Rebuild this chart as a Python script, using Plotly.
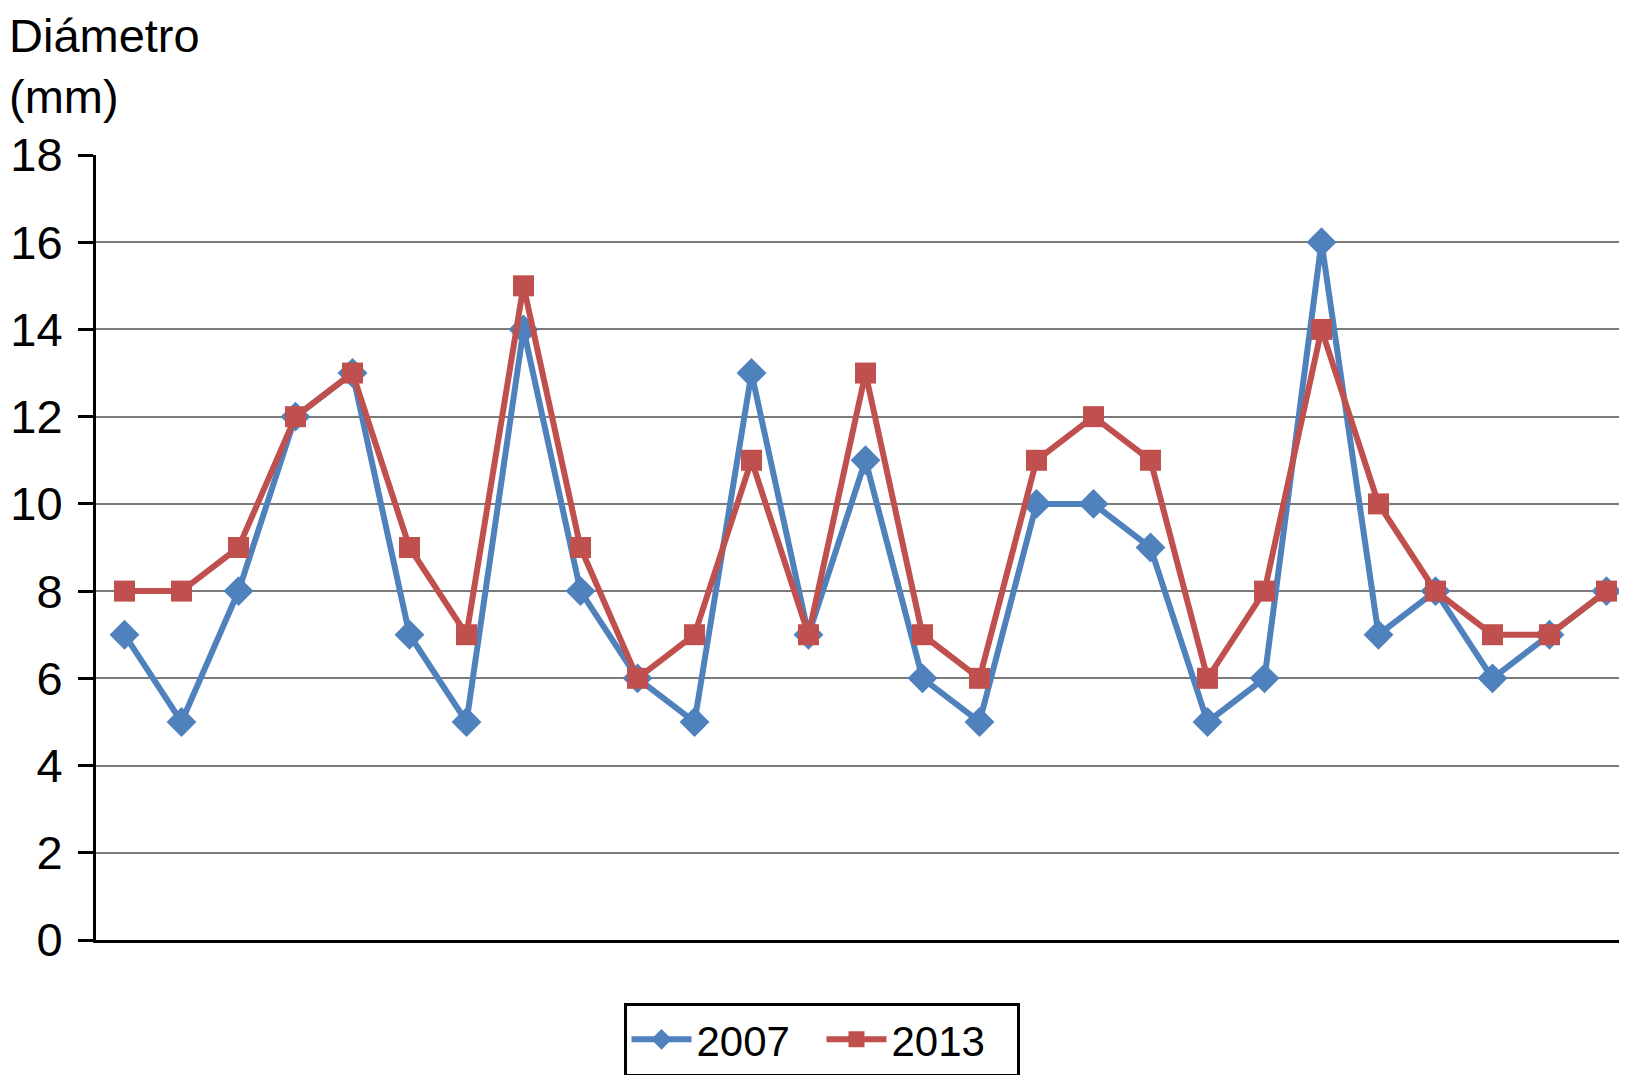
import plotly.graph_objects as go

categories = list(range(1, 28))
y2007 = [7, 5, 8, 12, 13, 7, 5, 14, 8, 6, 5, 13, 7, 11, 6, 5, 10, 10, 9, 5, 6, 16, 7, 8, 6, 7, 8]
y2013 = [8, 8, 9, 12, 13, 9, 7, 15, 9, 6, 7, 11, 7, 13, 7, 6, 11, 12, 11, 6, 8, 14, 10, 8, 7, 7, 8]
yticks = [0, 2, 4, 6, 8, 10, 12, 14, 16, 18]

FONT = "Liberation Sans, Arial, sans-serif"

fig = go.Figure()
fig.add_trace(go.Scatter(
    x=categories, y=y2007, name="2007", mode="lines+markers",
    line=dict(color="#4F81BD", width=6),
    marker=dict(symbol="diamond", size=23, color="#4F81BD"),
))
fig.add_trace(go.Scatter(
    x=categories, y=y2013, name="2013", mode="lines+markers",
    line=dict(color="#C0504D", width=6),
    marker=dict(symbol="square", size=21, color="#C0504D"),
))

W, H = 1627, 1075
L, R, T, B = 88, 0, 147, 143
fig.update_layout(
    width=W, height=H,
    margin=dict(l=L, r=R, t=T, b=B),
    paper_bgcolor="white", plot_bgcolor="white",
    font=dict(family=FONT, size=47, color="black"),
    showlegend=True,
    legend=dict(
        orientation="h", x=0.5, xref="container", xanchor="center",
        y=0.006, yref="container", yanchor="bottom",
        bordercolor="black", borderwidth=3,
        font=dict(size=42), itemwidth=60,
        entrywidth=120, entrywidthmode="pixels",
    ),
    xaxis=dict(
        range=[0.5, 27.5], showticklabels=False, ticks="", showgrid=False,
        zeroline=False, showline=True, linecolor="black", linewidth=3,
    ),
    yaxis=dict(
        range=[0, 18], tickvals=yticks, ticktext=[str(v) for v in yticks],
        showgrid=True, gridcolor="#7a7a7a", gridwidth=2, zeroline=False,
        showline=True, linecolor="black", linewidth=3,
        ticks="outside", ticklen=15, tickwidth=3, tickcolor="black",
        ticklabelstandoff=6, tickfont=dict(size=47),
    ),
    annotations=[dict(
        text="Diámetro<br>(mm)", xref="paper", yref="paper",
        x=-L / (W - L - R), y=1 + T / (H - T - B),
        xanchor="left", yanchor="top", xshift=0, yshift=0, borderpad=0,
        align="left", showarrow=False, font=dict(size=47, family=FONT),
    )],
)

fig.write_html("out.html")
